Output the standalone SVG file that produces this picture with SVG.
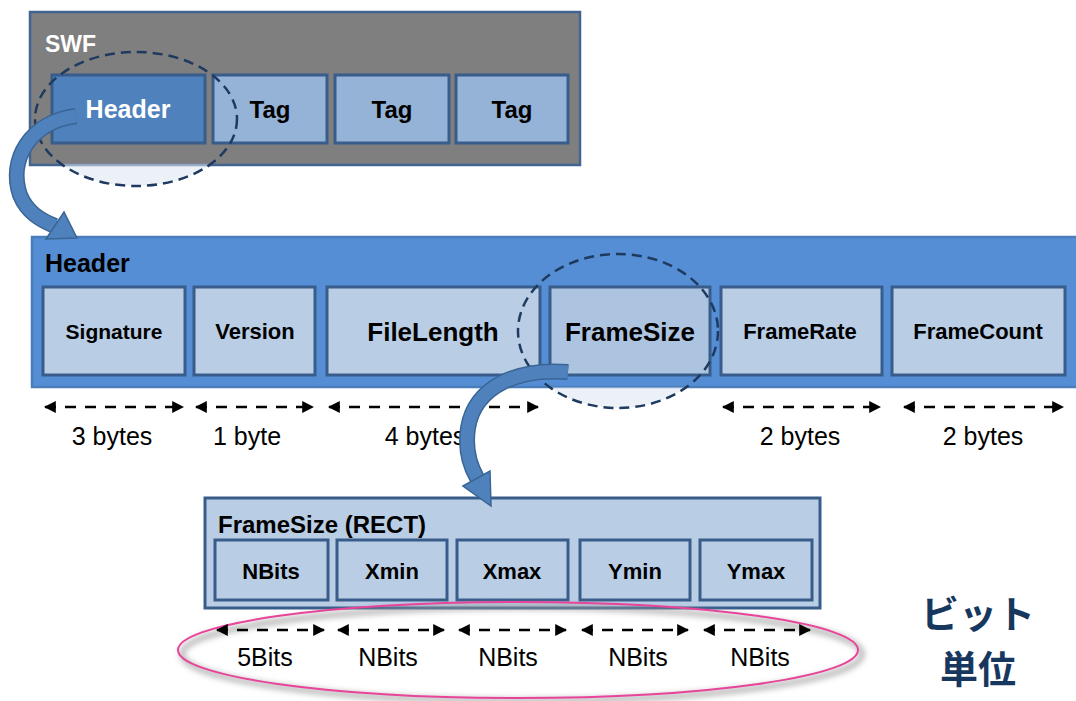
<svg xmlns="http://www.w3.org/2000/svg" width="1076" height="701" viewBox="0 0 1076 701">
<style>
.cell{fill:#b9cde5;stroke:#385d8a;stroke-width:3}
.tag{fill:#95b3d7;stroke:#385d8a;stroke-width:3}
.b{font-family:"Liberation Sans",Arial,sans-serif;font-weight:bold;fill:#000}
.r{font-family:"Liberation Sans",Arial,sans-serif;fill:#000;font-size:25px;text-anchor:middle}
.c{text-anchor:middle}
.dim{stroke:#000;stroke-width:2.4;stroke-dasharray:11 9;marker-start:url(#ah);marker-end:url(#ah)}
.dash{stroke:#1f3a5f;stroke-width:2.5;stroke-dasharray:10 6}
.band{fill:none;stroke:#4f81bd;stroke-width:13}
.bando{fill:none;stroke:#3a6594;stroke-width:16}
</style>
<defs>
<marker id="ah" viewBox="0 0 10 10" refX="9" refY="5" markerWidth="5" markerHeight="5" orient="auto-start-reverse" markerUnits="strokeWidth">
<path d="M0,0 L10,5 L0,10 z" fill="#000"/>
</marker>
<linearGradient id="eg" x1="0" y1="0" x2="0" y2="1">
<stop offset="0" stop-color="#dce6f2" stop-opacity="0"/>
<stop offset="0.83" stop-color="#dce6f2" stop-opacity="0"/>
<stop offset="0.84" stop-color="#dce6f2" stop-opacity="0.55"/>
<stop offset="1" stop-color="#dce6f2" stop-opacity="0.55"/>
</linearGradient>
<linearGradient id="eg2" x1="0" y1="0" x2="0" y2="1">
<stop offset="0" stop-color="#dce6f2" stop-opacity="0"/>
<stop offset="0.86" stop-color="#dce6f2" stop-opacity="0"/>
<stop offset="0.87" stop-color="#dce6f2" stop-opacity="0.55"/>
<stop offset="1" stop-color="#dce6f2" stop-opacity="0.55"/>
</linearGradient>
<filter id="sh" x="-10%" y="-30%" width="120%" height="160%">
<feGaussianBlur stdDeviation="3"/>
</filter>
</defs>
<rect width="1076" height="701" fill="#fff"/>

<g id="swf">
<rect x="30" y="12" width="550" height="153" fill="#7f7f7f" stroke="#41658f" stroke-width="2.5"/>
<text class="b" x="45" y="52" font-size="23" style="fill:#fff">SWF</text>
</g>
<g id="swf-header">
<rect x="52" y="75" width="153" height="68" fill="#4f81bd" stroke="#385d8a" stroke-width="3"/>
<text class="b c" x="128" y="118" font-size="25" style="fill:#fff">Header</text>
</g>
<g id="tag1"><rect class="tag" x="213" y="75" width="114" height="68"/><text class="b c" x="270" y="118" font-size="24">Tag</text></g>
<g id="tag2"><rect class="tag" x="335" y="75" width="114" height="68"/><text class="b c" x="392" y="118" font-size="24">Tag</text></g>
<g id="tag3"><rect class="tag" x="456" y="75" width="112" height="68"/><text class="b c" x="512" y="118" font-size="24">Tag</text></g>
<ellipse id="swf-focus" class="dash" cx="136" cy="119" rx="101" ry="67" fill="url(#eg)"/>

<g id="header">
<rect x="32" y="237" width="1060" height="150" fill="#558ed5" stroke="#4a7ebb" stroke-width="2.5"/>
<text class="b" x="45" y="272" font-size="25">Header</text>
</g>
<g id="signature"><rect class="cell" x="43" y="287" width="142" height="88"/><text class="b c" x="114" y="339" font-size="21">Signature</text></g>
<g id="version"><rect class="cell" x="194" y="287" width="121" height="88"/><text class="b c" x="255" y="339" font-size="22">Version</text></g>
<g id="filelength"><rect class="cell" x="327" y="287" width="213" height="88"/><text class="b c" x="433" y="341" font-size="26">FileLength</text></g>
<g id="framesize"><rect x="550" y="287" width="160" height="88" fill="#adc4e0" stroke="#385d8a" stroke-width="3"/><text class="b c" x="630" y="341" font-size="26">FrameSize</text></g>
<g id="framerate"><rect class="cell" x="721" y="287" width="161" height="88"/><text class="b c" x="800" y="339" font-size="22">FrameRate</text></g>
<g id="framecount"><rect class="cell" x="892" y="287" width="173" height="88"/><text class="b c" x="978" y="339" font-size="22">FrameCount</text></g>
<ellipse id="framesize-focus" class="dash" cx="618" cy="331" rx="100" ry="77" fill="url(#eg2)"/>

<g id="rect">
<rect x="205" y="498" width="615" height="110" fill="#b9cde5" stroke="#385d8a" stroke-width="3"/>
<text class="b" x="218" y="533" font-size="24">FrameSize (RECT)</text>
</g>
<g id="nbits"><rect class="cell" x="215" y="540" width="113" height="60"/><text class="b c" x="271" y="579" font-size="22">NBits</text></g>
<g id="xmin"><rect class="cell" x="337" y="540" width="110" height="60"/><text class="b c" x="392" y="579" font-size="22">Xmin</text></g>
<g id="xmax"><rect class="cell" x="457" y="540" width="111" height="60"/><text class="b c" x="512" y="579" font-size="22">Xmax</text></g>
<g id="ymin"><rect class="cell" x="580" y="540" width="110" height="60"/><text class="b c" x="635" y="579" font-size="22">Ymin</text></g>
<g id="ymax"><rect class="cell" x="700" y="540" width="112" height="60"/><text class="b c" x="756" y="579" font-size="22">Ymax</text></g>

<g id="bits-highlight">
<ellipse cx="522" cy="654" rx="340" ry="47" fill="none" stroke="#9a9a9a" stroke-width="4" filter="url(#sh)"/>
<ellipse cx="518" cy="650" rx="340" ry="48" fill="none" stroke="#e8449a" stroke-width="2"/>
</g>

<g id="connectors">
<path class="bando" d="M76 116 C 30 122, 8 160, 20 195 C 27 212, 40 220, 55 226"/>
<path class="band" d="M76 116 C 30 122, 8 160, 20 195 C 27 212, 40 220, 55 226"/>
<polygon points="46,239 64,212 77,238" fill="#4f81bd" stroke="#3a6594" stroke-width="1.5"/>
<line class="dim" x1="45" y1="407" x2="183" y2="407"/>
<line class="dim" x1="196" y1="407" x2="313" y2="407"/>
<line class="dim" x1="329" y1="407" x2="538" y2="407"/>
<line class="dim" x1="723" y1="407" x2="880" y2="407"/>
<line class="dim" x1="904" y1="407" x2="1063" y2="407"/>
<line class="dim" x1="217" y1="630" x2="324" y2="630"/>
<line class="dim" x1="338" y1="630" x2="444" y2="630"/>
<line class="dim" x1="459" y1="630" x2="566" y2="630"/>
<line class="dim" x1="582" y1="630" x2="688" y2="630"/>
<line class="dim" x1="704" y1="630" x2="810" y2="630"/>
</g>

<g id="labels">
<text class="r" x="112" y="445" font-size="26">3 bytes</text>
<text class="r" x="247" y="445" font-size="26">1 byte</text>
<text class="r" x="425" y="445" font-size="26">4 bytes</text>
<text class="r" x="800" y="445" font-size="26">2 bytes</text>
<text class="r" x="983" y="445" font-size="26">2 bytes</text>
<text class="r" x="265" y="666">5Bits</text>
<text class="r" x="388" y="666">NBits</text>
<text class="r" x="508" y="666">NBits</text>
<text class="r" x="638" y="666">NBits</text>
<text class="r" x="760" y="666">NBits</text>
</g>

<g id="connector-framesize">
<path class="bando" d="M568 372 C 520 368, 475 385, 468 428 C 465 448, 469 464, 477 478"/>
<path class="band" d="M568 372 C 520 368, 475 385, 468 428 C 465 448, 469 464, 477 478"/>
<polygon points="463,486 490,471 491,506" fill="#4f81bd" stroke="#3a6594" stroke-width="1.5"/>
</g>

<g id="bit-unit" font-family="'Noto Sans CJK JP','Noto Sans CJK SC',sans-serif" font-weight="bold" font-size="38" fill="#17375e" text-anchor="middle">
<text x="978" y="628">ビット</text>
<text x="978" y="683">単位</text>
</g>
</svg>
